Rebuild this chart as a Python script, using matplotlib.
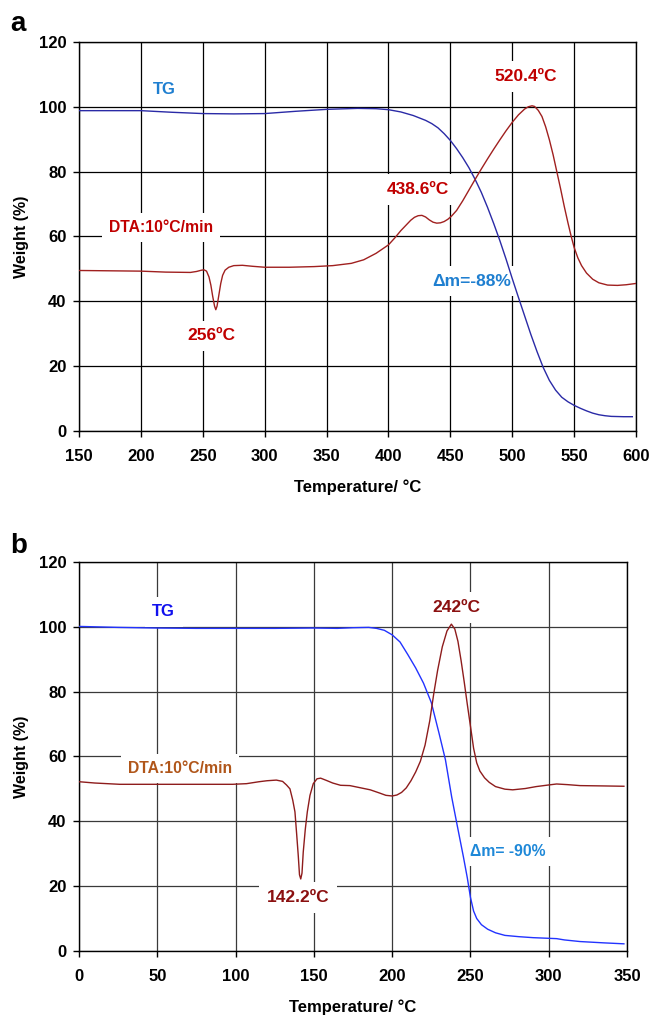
#!/usr/bin/env python3
"""
Redraw the TG / DTA thermograms (panels a and b) and save as out.png.
"""

import matplotlib

matplotlib.use("Agg")
import matplotlib.pyplot as plt

plt.rcParams["font.family"] = ["Liberation Sans", "DejaVu Sans"]

# ---- panel a : 150-600 C ----
a_tg_temp = [150, 200, 225, 250, 275, 300, 325, 350, 375, 390, 400, 410, 420,
             430, 435, 440, 445, 450, 455, 460, 465, 470, 475, 480, 485, 490,
             495, 500, 505, 510, 515, 520, 525, 530, 535, 540, 545, 550, 555,
             560, 565, 570, 575, 580, 590, 597]
a_tg_weight = [98.8, 98.8, 98.3, 97.9, 97.8, 97.9, 98.6, 99.2, 99.5, 99.4,
               99.1, 98.4, 97.3, 95.8, 94.8, 93.5, 91.7, 89.6, 87.1, 84.3,
               81.2, 77.6, 73.6, 69.0, 64.0, 58.7, 53.0, 47.0, 41.2, 35.5,
               29.8, 24.5, 19.6, 15.6, 12.6, 10.4, 9.0, 7.9, 7.0, 6.2, 5.5,
               5.0, 4.7, 4.5, 4.4, 4.4]

a_dta_temp = [150, 175, 200, 220, 240, 245, 249, 251, 253, 255, 256.5, 258,
              259.5, 260.5, 261.5, 263, 264.5, 266, 268, 271, 275, 282, 290,
              300, 320, 340, 355, 370, 380, 390, 400, 405, 410, 415, 418, 421,
              424, 427, 430, 433, 436, 439, 442, 445, 448, 451, 455, 460, 465,
              470, 475, 480, 485, 490, 495, 500, 505, 510, 513, 516, 518, 521,
              524, 527, 530, 533, 536, 539, 542, 545, 547.5, 550, 553, 556, 560,
              565, 570, 577, 585, 592, 600]
a_dta_signal = [49.5, 49.4, 49.3, 49.0, 48.9, 49.2, 49.6, 49.7, 49.3, 47.5,
                45.0, 41.5, 38.5, 37.4, 38.5, 42.0, 45.5, 48.0, 49.6, 50.5,
                51.0, 51.1, 50.8, 50.5, 50.5, 50.7, 51.0, 51.7, 52.8, 54.8,
                57.4, 59.5, 61.8, 63.8, 65.0, 65.9, 66.4, 66.5, 66.0, 65.1,
                64.4, 64.1, 64.2, 64.6, 65.3, 66.3, 68.0, 71.0, 74.3, 77.6,
                80.8, 83.9, 86.9, 89.8, 92.6, 95.2, 97.5, 99.3, 100.0, 100.3,
                100.1, 98.9, 97.0, 93.8, 89.8, 85.2, 80.0, 74.8, 69.3, 64.2,
                60.2, 56.6, 53.4, 51.0, 48.7, 46.8, 45.7, 45.0, 44.9, 45.1,
                45.5]

# ---- panel b : 0-350 C ----
b_tg_temp = [0, 25, 50, 75, 100, 125, 150, 165, 175, 185, 190, 195, 200, 205,
             210, 215, 220, 225, 230, 234, 238, 241.5, 245.5, 248, 250, 252,
             254, 257, 261, 266, 272, 281, 290, 300, 305, 310, 320, 335, 348]
b_tg_weight = [100.1, 99.8, 99.6, 99.5, 99.5, 99.5, 99.6, 99.5, 99.7, 99.8,
               99.5, 98.9, 97.5, 95.3, 91.4, 87.3, 82.6, 76.6, 67.0, 59.0,
               47.5, 38.8, 29.0, 22.5, 16.5, 12.3, 10.0, 8.1, 6.7, 5.6, 4.8,
               4.4, 4.1, 3.9, 3.8, 3.4, 2.9, 2.5, 2.2]

b_dta_temp = [0, 10, 26, 50, 75, 98, 107, 115, 120, 126, 130, 132.5, 134.7,
              136.5, 137.9, 139, 140, 140.8, 141.6, 142.4, 143.2, 144.5, 145.8,
              147.5, 149.6, 152, 154.3, 158, 162, 167, 173, 180, 186, 192, 196,
              200, 203, 206, 209, 212, 215, 218, 221, 224, 226.6, 229, 232,
              235, 237.8, 240, 242, 244, 246, 248, 250, 252, 254, 256, 259,
              262, 266, 272, 277, 285, 292, 300, 305, 312, 320, 335, 348]
b_dta_signal = [52.2, 51.8, 51.4, 51.4, 51.4, 51.4, 51.6, 52.2, 52.5, 52.7,
                52.3, 51.2, 50.0, 46.5, 42.9, 36.0, 29.5, 23.5, 22.2, 24.0,
                30.5, 37.5, 42.9, 48.0, 51.6, 53.1, 53.3, 52.6, 51.8, 51.1,
                51.0, 50.3, 49.7, 48.7, 48.0, 47.8, 48.1, 48.9, 50.3, 52.5,
                55.2, 58.5, 63.5, 71.0, 79.5, 86.5, 93.8, 98.7, 100.8, 99.3,
                95.5, 89.6, 83.0, 76.0, 69.3, 62.5, 58.0, 55.5, 53.4, 52.0,
                50.7, 49.9, 49.7, 50.1, 50.7, 51.2, 51.5, 51.3, 51.0, 50.9,
                50.8]

y_ticks = [0, 20, 40, 60, 80, 100, 120]
a_x_ticks = [150, 200, 250, 300, 350, 400, 450, 500, 550, 600]
b_x_ticks = [0, 50, 100, 150, 200, 250, 300, 350]


def style_axes(ax, xlim, xticks, grid_color):
    ax.set_xlim(*xlim)
    ax.set_ylim(0, 120)
    ax.set_xticks(xticks)
    ax.set_yticks(y_ticks)
    ax.grid(True, color=grid_color, linewidth=0.9)
    ax.set_axisbelow(True)
    for spine in ax.spines.values():
        spine.set_color("black")
        spine.set_linewidth(1.0)
    ax.tick_params(axis="both", direction="out", length=4, width=1,
                   labelsize=12)
    ax.tick_params(axis="x", pad=9)
    ax.tick_params(axis="y", pad=5)
    for lab in ax.get_xticklabels() + ax.get_yticklabels():
        lab.set_fontweight("bold")
    ax.set_xlabel("Temperature/ °C", fontsize=12, fontweight="bold", labelpad=11)
    ax.set_ylabel("Weight (%)", fontsize=11.5, fontweight="bold", labelpad=7)


def label(ax, x, y, text, color, size=12.5):
    ax.text(x, y, text, color=color, fontsize=size, fontweight="bold",
            ha="center", va="center", zorder=3,
            bbox=dict(boxstyle="square,pad=0.45", fc="white", ec="none"))


def main():
    fig = plt.figure(figsize=(6.51, 10.15), dpi=100)

    # panel a
    ax_a = fig.add_axes([0.1214, 0.5754, 0.8556, 0.3833])
    style_axes(ax_a, (150, 600), a_x_ticks, "black")
    ax_a.plot(a_tg_temp, a_tg_weight, color="#2a2aa6", linewidth=1.0, zorder=4)
    ax_a.plot(a_dta_temp, a_dta_signal, color="#a0201f", linewidth=1.0, zorder=4)
    label(ax_a, 219, 105.3, "TG", "#1f7fd0", 12)
    label(ax_a, 511, 109.3, "520.4ºC", "#c00000")
    label(ax_a, 424, 74.5, "438.6ºC", "#c00000")
    label(ax_a, 216, 62.8, "DTA:10°C/min", "#c00000", 11.3)
    label(ax_a, 257, 29.3, "256ºC", "#c00000")
    label(ax_a, 467, 46.2, "Δm=-88%", "#1f7fd0")

    # panel b
    ax_b = fig.add_axes([0.1214, 0.0631, 0.8418, 0.3833])
    style_axes(ax_b, (0, 350), b_x_ticks, "#3a3a3a")
    ax_b.plot(b_tg_temp, b_tg_weight, color="#2233ff", linewidth=1.0, zorder=4)
    ax_b.plot(b_dta_temp, b_dta_signal, color="#8e1c1c", linewidth=1.0, zorder=4)
    label(ax_b, 54, 104.6, "TG", "#1111ee", 12)
    label(ax_b, 241, 106, "242ºC", "#8b1010")
    label(ax_b, 64.5, 56.4, "DTA:10°C/min", "#b0561a", 11.3)
    label(ax_b, 140, 16.4, "142.2ºC", "#8b1010")
    label(ax_b, 274, 30.6, "Δm= -90%", "#1e88d8", 11.3)

    fig.text(0.028, 1 - 24 / 1015, "a", fontsize=20, fontweight="bold",
             ha="center", va="center")
    fig.text(0.028, 1 - 546 / 1015, "b", fontsize=20, fontweight="bold",
             ha="center", va="center")

    fig.savefig("out.png", dpi=100)
    plt.close(fig)


if __name__ == "__main__":
    main()
